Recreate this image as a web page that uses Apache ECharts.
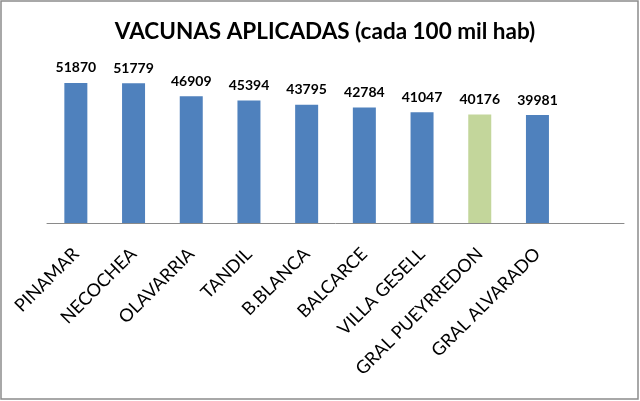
<!DOCTYPE html>
<html>
<head>
<meta charset="utf-8">
<script src="https://cdn.jsdelivr.net/npm/echarts@6/dist/echarts.min.js"></script>
<style>
html,body{margin:0;padding:0;background:#fff;}
#c{width:640px;height:401px;}
</style>
</head>
<body>
<div id="c"></div>
<script>
var categories = ["PINAMAR","NECOCHEA","OLAVARRIA","TANDIL","B.BLANCA","BALCARCE","VILLA GESELL","GRAL PUEYRREDON","GRAL ALVARADO",""];
var values = [51870,51779,46909,45394,43795,42784,41047,40176,39981,null];
var highlight = "GRAL PUEYRREDON";
var titleText = "VACUNAS APLICADAS (cada 100 mil hab)";

var chart = echarts.init(document.getElementById('c'));
var font = "Lato, 'Open Sans', sans-serif";
chart.setOption({
  animation:false,
  backgroundColor:'#fff',
  title:{text:titleText,left:320,textAlign:'center',top:15,textStyle:{fontFamily:font,fontSize:22.5,fontWeight:'bold',color:'#000'}},
  graphic:[{type:'rect',shape:{x:1,y:1,width:637,height:398},style:{fill:null,stroke:'#8c8c8c',lineWidth:1.5},silent:true}],
  grid:{left:47,right:16,top:61,bottom:178,containLabel:false},
  xAxis:{type:'category',data:categories,
    axisLine:{lineStyle:{color:'#8a8a8a',width:1}},
    axisTick:{show:false},
    axisLabel:{rotate:45,interval:0,margin:28,fontFamily:font,fontSize:18,color:'#000'}},
  yAxis:{type:'value',min:0,max:60000,show:false,splitLine:{show:false}},
  series:[{type:'bar',data:values.map(function(v,i){
      return {value:v,itemStyle:{color:categories[i]===highlight?'#C3D69B':'#4F81BD'}};
    }),
    barWidth:23,
    label:{show:true,position:'top',distance:8,fontFamily:font,fontSize:14,fontWeight:'bold',color:'#000'}}]
});
</script>
</body>
</html>
